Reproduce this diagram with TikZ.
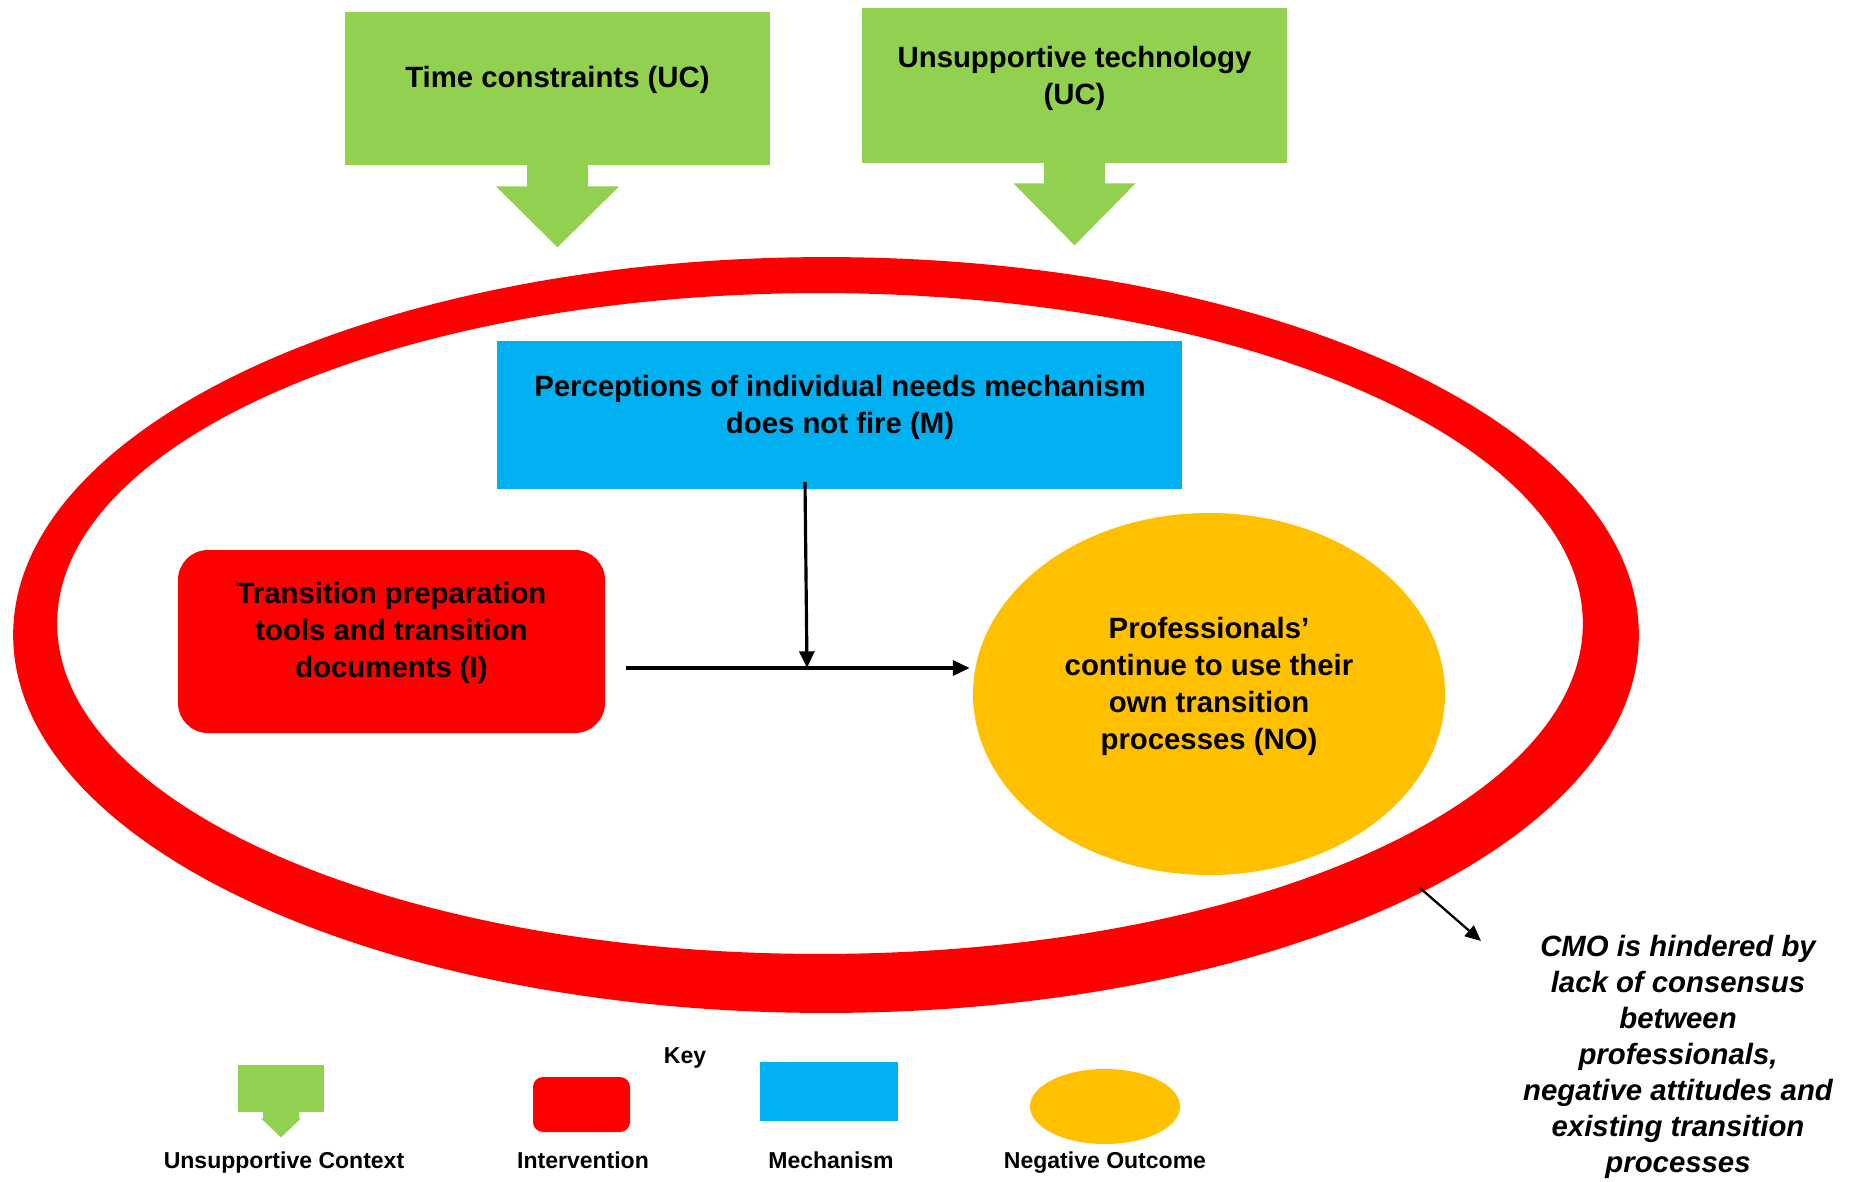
\documentclass[tikz,border=0pt]{standalone}
\usepackage{fontspec}
\setmainfont{Liberation Sans}
\usetikzlibrary{shapes.geometric,arrows.meta,calc}
\newcommand\pxu{0.02cm}
\definecolor{ucgreen}{HTML}{92D050}
\definecolor{mechblue}{HTML}{00B0F0}
\definecolor{intred}{HTML}{FF0000}
\definecolor{outorange}{HTML}{FFC000}
\tikzset{
  txt/.style={font=\fontsize{16.7}{21.05}\selectfont\bfseries, align=center, inner sep=0pt},
  cmotxt/.style={font=\fontsize{16.7}{20.4}\selectfont\bfseries\itshape, align=center, inner sep=0pt},
  keytxt/.style={font=\fontsize{13.1}{15}\selectfont\bfseries, inner sep=0pt},
  ucbox/.style={rectangle, fill=ucgreen, inner sep=0pt},
  intbox/.style={rectangle, fill=intred, inner sep=0pt},
  mechbox/.style={rectangle, fill=mechblue, inner sep=0pt},
  outell/.style={ellipse, fill=outorange, inner sep=0pt},
  conn/.style={line width=1.8pt, -{Triangle[length=9.5pt,width=8.5pt]}},
  thinconn/.style={line width=1.3pt, -{Triangle[length=9pt,width=8pt]}},
}
% downward arrow under a context box: #1 anchor, #2 stem half width,
% #3 stem length, #4 head half width, #5 tip depth
\newcommand\ucarrow[5]{%
  \fill[ucgreen] ($(#1)+(-#2,-1)$) -- ($(#1)+(-#2,#3)$) -- ($(#1)+(-#4,#3)$)
    -- ($(#1)+(0,#5)$) -- ($(#1)+(#4,#3)$) -- ($(#1)+(#2,#3)$)
    -- ($(#1)+(#2,-1)$) -- cycle;}
\begin{document}
\begin{tikzpicture}[x=\pxu,y=-\pxu]
\useasboundingbox (0,0) rectangle (1852,1181);
\fill[white] (0,0) rectangle (1852,1181);

% surrounding CMO ring
\fill[intred, even odd rule]
  (826,635) ellipse [x radius=16.26cm, y radius=7.56cm]
  (820,623.5) ellipse [x radius=15.26cm, y radius=6.61cm];

% unsupportive context boxes (multi-line texts are placed by their last baseline)
\node[ucbox, minimum width=425*\pxu, minimum height=153*\pxu] (uc1) at (557.5,88.5) {};
\ucarrow{uc1.south}{30.5}{21}{61.5}{82}
\node[txt, anchor=base] (uc1t) at (557.5,87) {Time constraints (UC)};

\node[ucbox, minimum width=425*\pxu, minimum height=155*\pxu] (uc2) at (1074.5,85.5) {};
\ucarrow{uc2.south}{30.5}{20}{61}{82}
\node[txt, anchor=base] (uc2t) at (1074.5,104) {Unsupportive technology\\(UC)};

% mechanism
\node[mechbox, minimum width=685*\pxu, minimum height=148*\pxu] (mech) at (839.5,415) {};
\node[txt, anchor=base] (mecht) at (840,433) {Perceptions of individual needs mechanism\\does not fire (M)};

% intervention
\node[intbox, rounded corners=0.6cm, minimum width=427*\pxu, minimum height=183*\pxu] (int) at (391.5,641.5) {};
\node[txt, anchor=base] (intt) at (391.5,677) {Transition preparation\\tools and transition\\documents (I)};

% outcome
\node[outell, minimum width=472*\pxu, minimum height=362*\pxu] (out) at (1209,694) {};
\node[txt, anchor=base] (outt) at (1209,749) {Professionals’\\continue to use their\\own transition\\processes (NO)};

% connectors
\coordinate (hstart) at (626,668);
\coordinate (junction) at (807,668);
\coordinate (mtop) at (805,482);
\draw[conn] (hstart) -- ([xshift=-3*\pxu]hstart -| out.west);
\draw[conn] (mtop) -- (junction);

% note on the ring
\coordinate (ringpt) at (1420,888);
\coordinate (notept) at (1481,941);
\draw[thinconn] (ringpt) -- (notept);
\node[cmotxt, anchor=base] (cmo) at (1678,1172) {CMO is hindered by\\lack of consensus\\between\\professionals,\\negative attitudes and\\existing transition\\processes};

% key
\node[keytxt, anchor=base] (keyt) at (685,1063) {Key};
\node[ucbox, minimum width=86*\pxu, minimum height=47*\pxu] (kuc) at (281,1088.5) {};
\ucarrow{kuc.south}{18}{6}{20}{25}
\node[intbox, rounded corners=0.2cm, minimum width=97*\pxu, minimum height=55*\pxu] (kint) at (581.5,1104.5) {};
\node[mechbox, minimum width=138*\pxu, minimum height=59*\pxu] (kmech) at (829,1091.5) {};
\node[outell, minimum width=150*\pxu, minimum height=75*\pxu] (kout) at (1105,1106.5) {};
\node[keytxt, anchor=base] (kuct) at (284,1168) {Unsupportive Context};
\node[keytxt, anchor=base] (kintt) at (583,1168) {Intervention};
\node[keytxt, anchor=base] (kmecht) at (831,1168) {Mechanism};
\node[keytxt, anchor=base] (koutt) at (1105,1168) {Negative Outcome};
\end{tikzpicture}
\end{document}
